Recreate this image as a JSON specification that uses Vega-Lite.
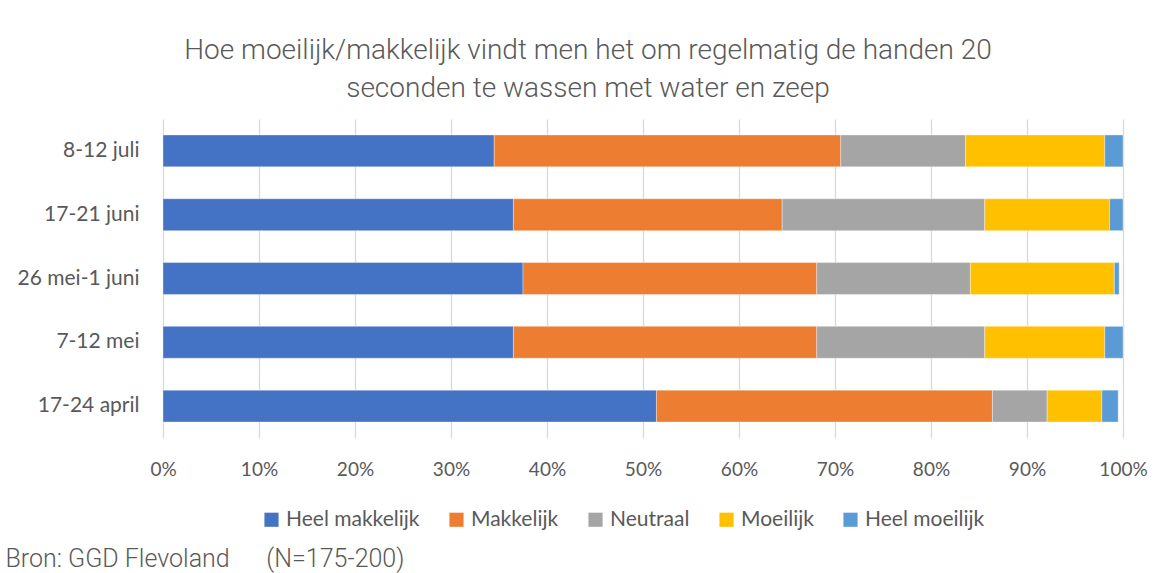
{
  "$schema": "https://vega.github.io/schema/vega-lite/v6.json",
  "autosize": "none",
  "width": 960,
  "height": 319,
  "padding": {"left": 163, "top": 119, "right": 30, "bottom": 135},
  "background": "white",
  "title": {
    "text": ["Hoe moeilijk/makkelijk vindt men het om regelmatig de handen 20", "seconden te wassen met water en zeep"],
    "anchor": "middle",
    "frame": "group",
    "dx": -55,
    "offset": 16,
    "font": "Roboto",
    "fontSize": 28,
    "fontWeight": 300,
    "color": "#595959",
    "lineHeight": 38
  },
  "data": {
    "values": [
      {"periode": "8-12 juli", "antwoord": "Heel makkelijk", "o": 1, "pct": 34.5},
      {"periode": "8-12 juli", "antwoord": "Makkelijk", "o": 2, "pct": 36.1},
      {"periode": "8-12 juli", "antwoord": "Neutraal", "o": 3, "pct": 13.0},
      {"periode": "8-12 juli", "antwoord": "Moeilijk", "o": 4, "pct": 14.5},
      {"periode": "8-12 juli", "antwoord": "Heel moeilijk", "o": 5, "pct": 1.9},
      {"periode": "17-21 juni", "antwoord": "Heel makkelijk", "o": 1, "pct": 36.5},
      {"periode": "17-21 juni", "antwoord": "Makkelijk", "o": 2, "pct": 28.0},
      {"periode": "17-21 juni", "antwoord": "Neutraal", "o": 3, "pct": 21.1},
      {"periode": "17-21 juni", "antwoord": "Moeilijk", "o": 4, "pct": 13.0},
      {"periode": "17-21 juni", "antwoord": "Heel moeilijk", "o": 5, "pct": 1.4},
      {"periode": "26 mei-1 juni", "antwoord": "Heel makkelijk", "o": 1, "pct": 37.5},
      {"periode": "26 mei-1 juni", "antwoord": "Makkelijk", "o": 2, "pct": 30.6},
      {"periode": "26 mei-1 juni", "antwoord": "Neutraal", "o": 3, "pct": 16.0},
      {"periode": "26 mei-1 juni", "antwoord": "Moeilijk", "o": 4, "pct": 15.0},
      {"periode": "26 mei-1 juni", "antwoord": "Heel moeilijk", "o": 5, "pct": 0.5},
      {"periode": "7-12 mei", "antwoord": "Heel makkelijk", "o": 1, "pct": 36.5},
      {"periode": "7-12 mei", "antwoord": "Makkelijk", "o": 2, "pct": 31.6},
      {"periode": "7-12 mei", "antwoord": "Neutraal", "o": 3, "pct": 17.5},
      {"periode": "7-12 mei", "antwoord": "Moeilijk", "o": 4, "pct": 12.5},
      {"periode": "7-12 mei", "antwoord": "Heel moeilijk", "o": 5, "pct": 1.9},
      {"periode": "17-24 april", "antwoord": "Heel makkelijk", "o": 1, "pct": 51.4},
      {"periode": "17-24 april", "antwoord": "Makkelijk", "o": 2, "pct": 35.0},
      {"periode": "17-24 april", "antwoord": "Neutraal", "o": 3, "pct": 5.7},
      {"periode": "17-24 april", "antwoord": "Moeilijk", "o": 4, "pct": 5.7},
      {"periode": "17-24 april", "antwoord": "Heel moeilijk", "o": 5, "pct": 1.7}
    ]
  },
  "mark": {"type": "bar", "stroke": "white", "strokeWidth": 0.6, "strokeOpacity": 0.6},
  "encoding": {
    "y": {
      "field": "periode",
      "type": "nominal",
      "sort": ["8-12 juli", "17-21 juni", "26 mei-1 juni", "7-12 mei", "17-24 april"],
      "scale": {"paddingInner": 0.5, "paddingOuter": 0.25},
      "axis": {
        "title": null,
        "domain": false,
        "ticks": false,
        "labelFont": "Lato",
        "labelFontSize": 21,
        "labelColor": "#595959",
        "labelPadding": 24
      }
    },
    "x": {
      "field": "pct",
      "type": "quantitative",
      "stack": "zero",
      "scale": {"domain": [0, 100], "nice": false},
      "axis": {
        "values": [0, 10, 20, 30, 40, 50, 60, 70, 80, 90, 100],
        "labelExpr": "datum.value + '%'",
        "labelFlush": false,
        "labelFont": "Lato",
        "labelFontSize": 19,
        "labelColor": "#595959",
        "labelPadding": 22,
        "domain": false,
        "ticks": false,
        "grid": true,
        "gridColor": "#d9d9d9",
        "gridWidth": 1.3,
        "title": "Bron: GGD Flevoland\u00a0\u00a0\u00a0\u00a0\u00a0\u00a0(N=175-200)",
        "titleFont": "Roboto",
        "titleFontSize": 25,
        "titleFontWeight": 300,
        "titleColor": "#595959",
        "titleAnchor": "start",
        "titleAlign": "left",
        "titleBaseline": "alphabetic",
        "titleX": -158,
        "titleY": 128
      }
    },
    "color": {
      "field": "antwoord",
      "type": "nominal",
      "sort": ["Heel makkelijk", "Makkelijk", "Neutraal", "Moeilijk", "Heel moeilijk"],
      "scale": {
        "domain": ["Heel makkelijk", "Makkelijk", "Neutraal", "Moeilijk", "Heel moeilijk"],
        "range": ["#4472C4", "#ED7D31", "#A5A5A5", "#FFC000", "#5B9BD5"]
      },
      "legend": {
        "title": null,
        "orient": "none",
        "legendX": 98,
        "legendY": 390,
        "direction": "horizontal",
        "symbolType": "square",
        "symbolSize": 200,
        "symbolStrokeWidth": 0,
        "labelFont": "Lato",
        "labelFontSize": 21,
        "labelColor": "#595959",
        "columnPadding": 26,
        "labelOffset": 4
      }
    },
    "order": {"field": "o", "type": "quantitative"}
  },
  "config": {
    "view": {"stroke": null}
  }
}
